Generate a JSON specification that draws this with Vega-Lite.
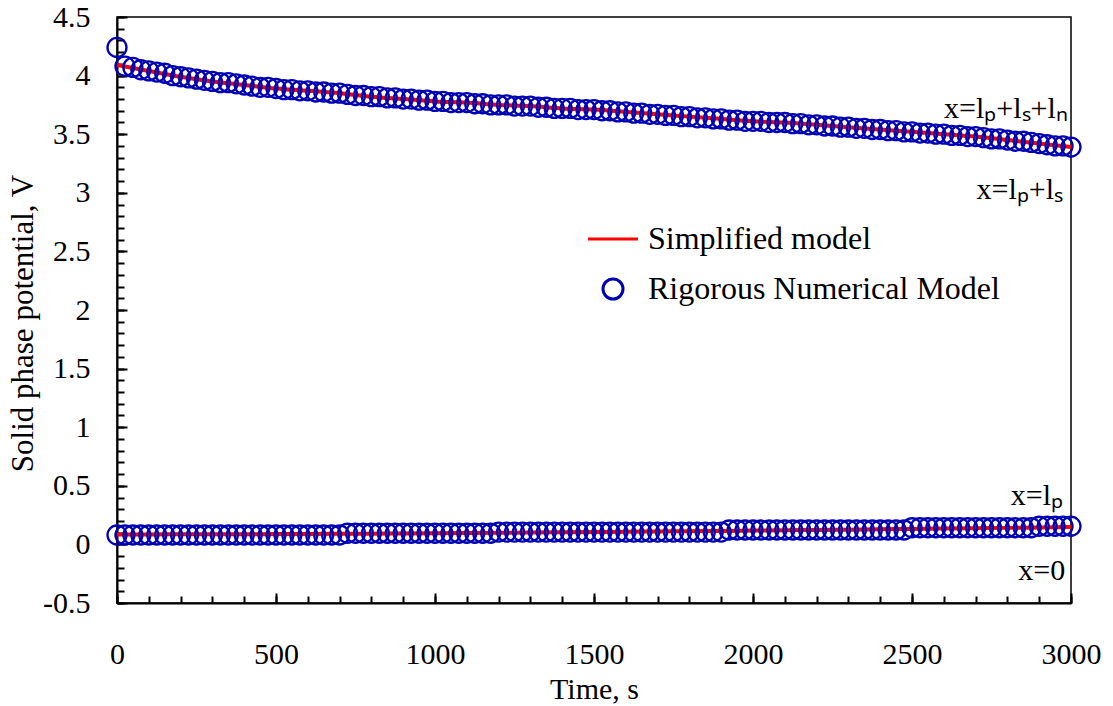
{
  "$schema": "https://vega.github.io/schema/vega-lite/v6.json",
  "width": 954,
  "height": 586,
  "autosize": {"type": "none"},
  "padding": {"left": 117, "top": 17, "right": 42, "bottom": 103},
  "background": "white",
  "config": {
    "font": "Liberation Serif",
    "view": {"stroke": "black", "strokeWidth": 1.5},
    "text": {"font": "Liberation Serif", "fontSize": 30},
    "style": {
      "guide-label": {"font": "Liberation Serif", "fontSize": 30, "fill": "black"},
      "guide-title": {"font": "Liberation Serif", "fontSize": 30, "fill": "black"}
    },
    "axis": {
      "grid": false,
      "labelFont": "Liberation Serif",
      "labelFontSize": 30,
      "labelColor": "black",
      "labelFlush": false,
      "labelOverlap": false,
      "titleFont": "Liberation Serif",
      "titleFontSize": 30,
      "titleFontWeight": "normal",
      "titleColor": "black",
      "tickColor": "black",
      "tickWidth": 2,
      "domainColor": "black",
      "domainWidth": 2
    },
    "legend": {
      "labelFont": "Liberation Serif",
      "labelFontSize": 32,
      "labelColor": "black",
      "labelLimit": 0
    }
  },
  "datasets": {
    "simplified": [
      {"t": 0, "v": 4.09, "c": "top"}, {"t": 100, "v": 4.04, "c": "top"}, {"t": 200, "v": 3.99, "c": "top"},
      {"t": 300, "v": 3.95, "c": "top"}, {"t": 400, "v": 3.92, "c": "top"}, {"t": 500, "v": 3.89, "c": "top"},
      {"t": 600, "v": 3.87, "c": "top"}, {"t": 700, "v": 3.85, "c": "top"}, {"t": 800, "v": 3.82, "c": "top"},
      {"t": 900, "v": 3.80, "c": "top"}, {"t": 1000, "v": 3.78, "c": "top"}, {"t": 1100, "v": 3.77, "c": "top"},
      {"t": 1200, "v": 3.75, "c": "top"}, {"t": 1300, "v": 3.74, "c": "top"}, {"t": 1400, "v": 3.72, "c": "top"},
      {"t": 1500, "v": 3.71, "c": "top"}, {"t": 1600, "v": 3.69, "c": "top"}, {"t": 1700, "v": 3.67, "c": "top"},
      {"t": 1800, "v": 3.65, "c": "top"}, {"t": 1900, "v": 3.63, "c": "top"}, {"t": 2000, "v": 3.61, "c": "top"},
      {"t": 2100, "v": 3.60, "c": "top"}, {"t": 2200, "v": 3.58, "c": "top"}, {"t": 2300, "v": 3.56, "c": "top"},
      {"t": 2400, "v": 3.54, "c": "top"}, {"t": 2500, "v": 3.52, "c": "top"}, {"t": 2600, "v": 3.50, "c": "top"},
      {"t": 2700, "v": 3.48, "c": "top"}, {"t": 2800, "v": 3.45, "c": "top"}, {"t": 2900, "v": 3.42, "c": "top"},
      {"t": 3000, "v": 3.39, "c": "top"},
      {"t": 0, "v": 0.085, "c": "bottom"}, {"t": 100, "v": 0.085, "c": "bottom"}, {"t": 200, "v": 0.086, "c": "bottom"},
      {"t": 300, "v": 0.087, "c": "bottom"}, {"t": 400, "v": 0.087, "c": "bottom"}, {"t": 500, "v": 0.088, "c": "bottom"},
      {"t": 600, "v": 0.089, "c": "bottom"}, {"t": 700, "v": 0.090, "c": "bottom"}, {"t": 800, "v": 0.091, "c": "bottom"},
      {"t": 900, "v": 0.093, "c": "bottom"}, {"t": 1000, "v": 0.095, "c": "bottom"}, {"t": 1100, "v": 0.097, "c": "bottom"},
      {"t": 1200, "v": 0.099, "c": "bottom"}, {"t": 1300, "v": 0.101, "c": "bottom"}, {"t": 1400, "v": 0.103, "c": "bottom"},
      {"t": 1500, "v": 0.105, "c": "bottom"}, {"t": 1600, "v": 0.108, "c": "bottom"}, {"t": 1700, "v": 0.110, "c": "bottom"},
      {"t": 1800, "v": 0.113, "c": "bottom"}, {"t": 1900, "v": 0.115, "c": "bottom"}, {"t": 2000, "v": 0.118, "c": "bottom"},
      {"t": 2100, "v": 0.121, "c": "bottom"}, {"t": 2200, "v": 0.123, "c": "bottom"}, {"t": 2300, "v": 0.126, "c": "bottom"},
      {"t": 2400, "v": 0.129, "c": "bottom"}, {"t": 2500, "v": 0.132, "c": "bottom"}, {"t": 2600, "v": 0.135, "c": "bottom"},
      {"t": 2700, "v": 0.138, "c": "bottom"}, {"t": 2800, "v": 0.141, "c": "bottom"}, {"t": 2900, "v": 0.145, "c": "bottom"},
      {"t": 3000, "v": 0.148, "c": "bottom"}
    ],
    "rigorous": [
      {"t": 0, "v": 4.24}, {"t": 25, "v": 4.08}, {"t": 50, "v": 4.07}, {"t": 75, "v": 4.05}, {"t": 100, "v": 4.04},
      {"t": 125, "v": 4.03}, {"t": 150, "v": 4.02}, {"t": 175, "v": 4.00}, {"t": 200, "v": 3.99}, {"t": 225, "v": 3.98},
      {"t": 250, "v": 3.97}, {"t": 275, "v": 3.96}, {"t": 300, "v": 3.95}, {"t": 325, "v": 3.94}, {"t": 350, "v": 3.94},
      {"t": 375, "v": 3.93}, {"t": 400, "v": 3.92}, {"t": 425, "v": 3.91}, {"t": 450, "v": 3.90}, {"t": 475, "v": 3.90},
      {"t": 500, "v": 3.89}, {"t": 525, "v": 3.88}, {"t": 550, "v": 3.88}, {"t": 575, "v": 3.87}, {"t": 600, "v": 3.87},
      {"t": 625, "v": 3.86}, {"t": 650, "v": 3.86}, {"t": 675, "v": 3.85}, {"t": 700, "v": 3.85}, {"t": 725, "v": 3.84},
      {"t": 750, "v": 3.83}, {"t": 775, "v": 3.83}, {"t": 800, "v": 3.82}, {"t": 825, "v": 3.82}, {"t": 850, "v": 3.81},
      {"t": 875, "v": 3.81}, {"t": 900, "v": 3.80}, {"t": 925, "v": 3.80}, {"t": 950, "v": 3.79}, {"t": 975, "v": 3.79},
      {"t": 1000, "v": 3.78}, {"t": 1025, "v": 3.78}, {"t": 1050, "v": 3.77}, {"t": 1075, "v": 3.77}, {"t": 1100, "v": 3.77},
      {"t": 1125, "v": 3.76}, {"t": 1150, "v": 3.76}, {"t": 1175, "v": 3.75}, {"t": 1200, "v": 3.75}, {"t": 1225, "v": 3.75},
      {"t": 1250, "v": 3.74}, {"t": 1275, "v": 3.74}, {"t": 1300, "v": 3.74}, {"t": 1325, "v": 3.73}, {"t": 1350, "v": 3.73},
      {"t": 1375, "v": 3.72}, {"t": 1400, "v": 3.72}, {"t": 1425, "v": 3.72}, {"t": 1450, "v": 3.71}, {"t": 1475, "v": 3.71},
      {"t": 1500, "v": 3.71}, {"t": 1525, "v": 3.70}, {"t": 1550, "v": 3.70}, {"t": 1575, "v": 3.69}, {"t": 1600, "v": 3.69},
      {"t": 1625, "v": 3.68}, {"t": 1650, "v": 3.68}, {"t": 1675, "v": 3.67}, {"t": 1700, "v": 3.67}, {"t": 1725, "v": 3.66},
      {"t": 1750, "v": 3.66}, {"t": 1775, "v": 3.65}, {"t": 1800, "v": 3.65}, {"t": 1825, "v": 3.64}, {"t": 1850, "v": 3.64},
      {"t": 1875, "v": 3.63}, {"t": 1900, "v": 3.63}, {"t": 1925, "v": 3.62}, {"t": 1950, "v": 3.62}, {"t": 1975, "v": 3.61},
      {"t": 2000, "v": 3.61}, {"t": 2025, "v": 3.61}, {"t": 2050, "v": 3.60}, {"t": 2075, "v": 3.60}, {"t": 2100, "v": 3.60},
      {"t": 2125, "v": 3.59}, {"t": 2150, "v": 3.59}, {"t": 2175, "v": 3.58}, {"t": 2200, "v": 3.58}, {"t": 2225, "v": 3.57},
      {"t": 2250, "v": 3.57}, {"t": 2275, "v": 3.56}, {"t": 2300, "v": 3.56}, {"t": 2325, "v": 3.55}, {"t": 2350, "v": 3.55},
      {"t": 2375, "v": 3.54}, {"t": 2400, "v": 3.54}, {"t": 2425, "v": 3.53}, {"t": 2450, "v": 3.53}, {"t": 2475, "v": 3.52},
      {"t": 2500, "v": 3.52}, {"t": 2525, "v": 3.51}, {"t": 2550, "v": 3.51}, {"t": 2575, "v": 3.50}, {"t": 2600, "v": 3.50},
      {"t": 2625, "v": 3.49}, {"t": 2650, "v": 3.49}, {"t": 2675, "v": 3.48}, {"t": 2700, "v": 3.48}, {"t": 2725, "v": 3.47},
      {"t": 2750, "v": 3.46}, {"t": 2775, "v": 3.46}, {"t": 2800, "v": 3.45}, {"t": 2825, "v": 3.44}, {"t": 2850, "v": 3.44},
      {"t": 2875, "v": 3.43}, {"t": 2900, "v": 3.42}, {"t": 2925, "v": 3.41}, {"t": 2950, "v": 3.40}, {"t": 2975, "v": 3.40},
      {"t": 3000, "v": 3.39},
      {"t": 0, "v": 0.08}, {"t": 25, "v": 0.08}, {"t": 50, "v": 0.08}, {"t": 75, "v": 0.08}, {"t": 100, "v": 0.08},
      {"t": 125, "v": 0.08}, {"t": 150, "v": 0.08}, {"t": 175, "v": 0.08}, {"t": 200, "v": 0.08}, {"t": 225, "v": 0.08},
      {"t": 250, "v": 0.08}, {"t": 275, "v": 0.08}, {"t": 300, "v": 0.08}, {"t": 325, "v": 0.08}, {"t": 350, "v": 0.08},
      {"t": 375, "v": 0.08}, {"t": 400, "v": 0.08}, {"t": 425, "v": 0.08}, {"t": 450, "v": 0.08}, {"t": 475, "v": 0.08},
      {"t": 500, "v": 0.08}, {"t": 525, "v": 0.08}, {"t": 550, "v": 0.08}, {"t": 575, "v": 0.08}, {"t": 600, "v": 0.08},
      {"t": 625, "v": 0.08}, {"t": 650, "v": 0.08}, {"t": 675, "v": 0.08}, {"t": 700, "v": 0.08}, {"t": 725, "v": 0.095},
      {"t": 750, "v": 0.095}, {"t": 775, "v": 0.095}, {"t": 800, "v": 0.095}, {"t": 825, "v": 0.095}, {"t": 850, "v": 0.095},
      {"t": 875, "v": 0.095}, {"t": 900, "v": 0.095}, {"t": 925, "v": 0.095}, {"t": 950, "v": 0.095}, {"t": 975, "v": 0.095},
      {"t": 1000, "v": 0.095}, {"t": 1025, "v": 0.095}, {"t": 1050, "v": 0.095}, {"t": 1075, "v": 0.095}, {"t": 1100, "v": 0.095},
      {"t": 1125, "v": 0.095}, {"t": 1150, "v": 0.095}, {"t": 1175, "v": 0.095}, {"t": 1200, "v": 0.105}, {"t": 1225, "v": 0.105},
      {"t": 1250, "v": 0.105}, {"t": 1275, "v": 0.105}, {"t": 1300, "v": 0.105}, {"t": 1325, "v": 0.105}, {"t": 1350, "v": 0.105},
      {"t": 1375, "v": 0.105}, {"t": 1400, "v": 0.105}, {"t": 1425, "v": 0.105}, {"t": 1450, "v": 0.105}, {"t": 1475, "v": 0.105},
      {"t": 1500, "v": 0.105}, {"t": 1525, "v": 0.105}, {"t": 1550, "v": 0.105}, {"t": 1575, "v": 0.105}, {"t": 1600, "v": 0.105},
      {"t": 1625, "v": 0.105}, {"t": 1650, "v": 0.105}, {"t": 1675, "v": 0.105}, {"t": 1700, "v": 0.105}, {"t": 1725, "v": 0.105},
      {"t": 1750, "v": 0.105}, {"t": 1775, "v": 0.105}, {"t": 1800, "v": 0.105}, {"t": 1825, "v": 0.105}, {"t": 1850, "v": 0.105},
      {"t": 1875, "v": 0.105}, {"t": 1900, "v": 0.105}, {"t": 1925, "v": 0.123}, {"t": 1950, "v": 0.123}, {"t": 1975, "v": 0.123},
      {"t": 2000, "v": 0.123}, {"t": 2025, "v": 0.123}, {"t": 2050, "v": 0.123}, {"t": 2075, "v": 0.123}, {"t": 2100, "v": 0.123},
      {"t": 2125, "v": 0.123}, {"t": 2150, "v": 0.123}, {"t": 2175, "v": 0.123}, {"t": 2200, "v": 0.123}, {"t": 2225, "v": 0.123},
      {"t": 2250, "v": 0.123}, {"t": 2275, "v": 0.123}, {"t": 2300, "v": 0.123}, {"t": 2325, "v": 0.123}, {"t": 2350, "v": 0.123},
      {"t": 2375, "v": 0.123}, {"t": 2400, "v": 0.123}, {"t": 2425, "v": 0.123}, {"t": 2450, "v": 0.123}, {"t": 2475, "v": 0.123},
      {"t": 2500, "v": 0.142}, {"t": 2525, "v": 0.142}, {"t": 2550, "v": 0.142}, {"t": 2575, "v": 0.142}, {"t": 2600, "v": 0.142},
      {"t": 2625, "v": 0.142}, {"t": 2650, "v": 0.142}, {"t": 2675, "v": 0.142}, {"t": 2700, "v": 0.142}, {"t": 2725, "v": 0.142},
      {"t": 2750, "v": 0.142}, {"t": 2775, "v": 0.142}, {"t": 2800, "v": 0.142}, {"t": 2825, "v": 0.142}, {"t": 2850, "v": 0.142},
      {"t": 2875, "v": 0.142}, {"t": 2900, "v": 0.155}, {"t": 2925, "v": 0.155}, {"t": 2950, "v": 0.155}, {"t": 2975, "v": 0.155},
      {"t": 3000, "v": 0.155}
    ],
    "positions": [
      {"t": 2990, "v": 3.638, "label": "x=lₚ+lₛ+lₙ"},
      {"t": 2975, "v": 2.948, "label": "x=lₚ+lₛ"},
      {"t": 2975, "v": 0.336, "label": "x=lₚ"},
      {"t": 2982, "v": -0.302, "label": "x=0"}
    ]
  },
  "layer": [
    {
      "data": {"name": "simplified"},
      "mark": {"type": "line", "strokeWidth": 4, "interpolate": "monotone"},
      "encoding": {
        "x": {
          "field": "t", "type": "quantitative",
          "scale": {"domain": [0, 3000], "nice": false, "zero": false},
          "axis": {
            "orient": "bottom", "title": "Time, s",
            "values": [0, 500, 1000, 1500, 2000, 2500, 3000],
            "ticks": false, "labelPadding": 60, "labelBaseline": "alphabetic",
            "labelFont": "Liberation Serif", "labelFontSize": 30,
            "labelExpr": "'' + datum.value",
            "titleX": 477, "titleY": 95, "titleBaseline": "alphabetic", "titleAlign": "center"
          }
        },
        "y": {
          "field": "v", "type": "quantitative",
          "scale": {"domain": [-0.5, 4.5], "nice": false, "zero": false},
          "axis": {
            "orient": "left", "title": "Solid phase potential, V",
            "values": [-0.5, 0, 0.5, 1, 1.5, 2, 2.5, 3, 3.5, 4, 4.5],
            "ticks": false, "labelPadding": 27, "labelBaseline": "middle",
            "labelFont": "Liberation Serif", "labelFontSize": 30,
            "labelExpr": "'' + datum.value",
            "titleFontSize": 31,
            "titleX": -94, "titleY": 306, "titleBaseline": "middle", "titleAlign": "center", "titleAngle": -90
          }
        },
        "detail": {"field": "c"},
        "color": {
          "datum": "Simplified model",
          "scale": {"domain": ["Simplified model", "Rigorous Numerical Model"], "range": ["#ff0000", "#0000b4"]},
          "legend": {
            "title": null, "orient": "none", "legendX": 480, "legendY": 206,
            "padding": 0, "rowPadding": 18, "labelOffset": 19, "symbolSize": 400,
            "labelFont": "Liberation Serif", "labelFontSize": 32, "labelLimit": 0,
            "symbolStrokeWidth": 3, "symbolFillColor": "transparent"
          }
        }
      }
    },
    {
      "data": {"name": "rigorous"},
      "mark": {"type": "point", "filled": false, "size": 361, "strokeWidth": 2.3, "opacity": 1},
      "encoding": {
        "x": {
          "field": "t", "type": "quantitative",
          "axis": {"orient": "bottom", "title": null, "labels": false, "domain": false,
                   "values": [0, 500, 1000, 1500, 2000, 2500, 3000], "tickSize": -10}
        },
        "y": {
          "field": "v", "type": "quantitative",
          "axis": {"orient": "left", "title": null, "labels": false, "domain": false,
                   "values": [-0.5, 0, 0.5, 1, 1.5, 2, 2.5, 3, 3.5, 4, 4.5], "tickSize": -10}
        },
        "color": {"datum": "Rigorous Numerical Model"},
        "shape": {
          "datum": "Rigorous Numerical Model",
          "scale": {"domain": ["Simplified model", "Rigorous Numerical Model"], "range": ["M-2.5,0H2.5", "circle"]}
        }
      }
    },
    {
      "data": {"name": "positions"},
      "mark": {"type": "text", "align": "right", "baseline": "alphabetic", "fontSize": 30, "font": "Liberation Serif", "color": "black"},
      "encoding": {
        "x": {
          "field": "t", "type": "quantitative",
          "axis": {"orient": "bottom", "title": null, "labels": false, "domain": false, "tickSize": -7,
                   "values": [0, 100, 200, 300, 400, 500, 600, 700, 800, 900, 1000, 1100, 1200, 1300, 1400, 1500, 1600, 1700, 1800, 1900, 2000, 2100, 2200, 2300, 2400, 2500, 2600, 2700, 2800, 2900, 3000]}
        },
        "y": {
          "field": "v", "type": "quantitative",
          "axis": {"orient": "left", "title": null, "labels": false, "domain": false, "tickSize": -7,
                   "values": [-0.5, -0.4, -0.3, -0.2, -0.1, 0, 0.1, 0.2, 0.3, 0.4, 0.5, 0.6, 0.7, 0.8, 0.9, 1, 1.1, 1.2, 1.3, 1.4, 1.5, 1.6, 1.7, 1.8, 1.9, 2, 2.1, 2.2, 2.3, 2.4, 2.5, 2.6, 2.7, 2.8, 2.9, 3, 3.1, 3.2, 3.3, 3.4, 3.5, 3.6, 3.7, 3.8, 3.9, 4, 4.1, 4.2, 4.3, 4.4, 4.5]}
        },
        "text": {"field": "label"}
      }
    }
  ],
  "resolve": {"axis": {"x": "independent", "y": "independent"}}
}
